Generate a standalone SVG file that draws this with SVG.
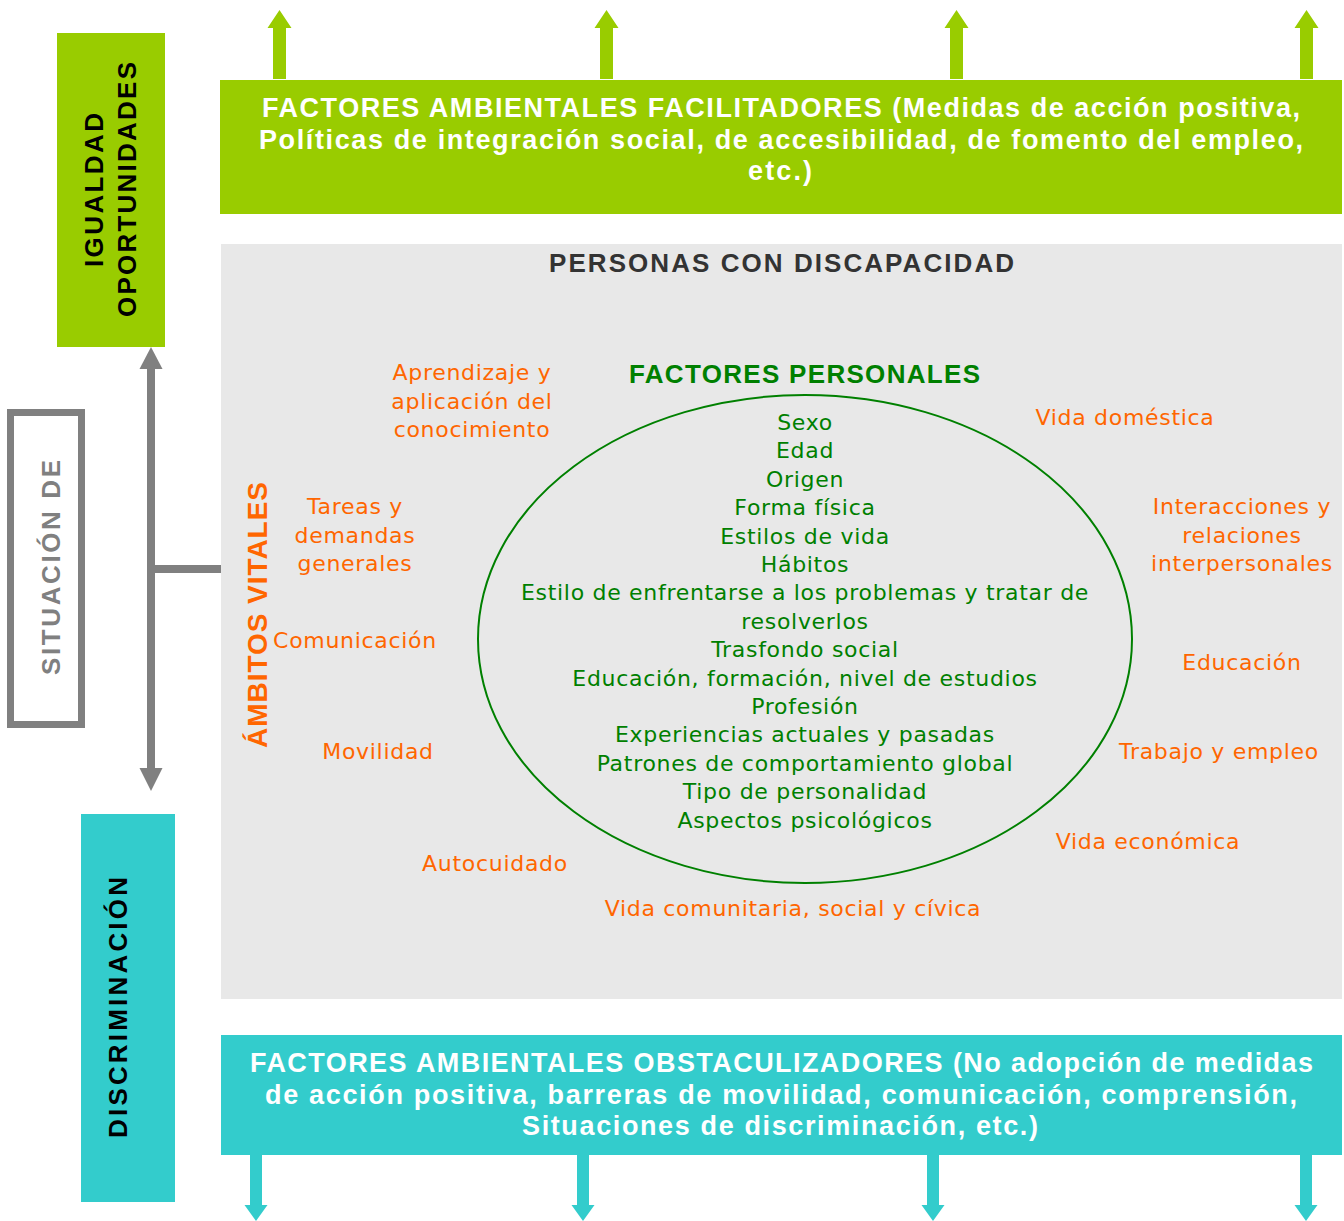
<svg xmlns="http://www.w3.org/2000/svg" width="1344" height="1221" viewBox="0 0 1344 1221">
  <style>
    .hb { font-family: "Liberation Sans", Arial, sans-serif; font-weight: bold; text-anchor: middle; }
    .wh { fill: #ffffff; font-size: 27px; }
    .vt { font-size: 26px; fill: #000000; }
    .rg { font-family: "DejaVu Sans", Verdana, sans-serif; font-size: 22px; letter-spacing: 0.7px; text-anchor: middle; }
    .or { fill: #ff6600; }
    .gr { fill: #008000; }
  </style>
  <rect width="1344" height="1221" fill="#ffffff"/>

  <g id="connectors">
    <g fill="#99cc00">
      <path d="M273,79 V28 H267.5 L279.5,10 L291.5,28 H286 V79 Z"/>
      <path d="M600,79 V28 H594.5 L606.5,10 L618.5,28 H613 V79 Z"/>
      <path d="M950,79 V28 H944.5 L956.5,10 L968.5,28 H963 V79 Z"/>
      <path d="M1300,79 V28 H1294.5 L1306.5,10 L1318.5,28 H1313 V79 Z"/>
    </g>
    <g fill="#33cccc">
      <path d="M250,1155 V1205 H244.5 L256,1221 L267.5,1205 H262 V1155 Z"/>
      <path d="M577,1155 V1205 H571.5 L583,1221 L594.5,1205 H589 V1155 Z"/>
      <path d="M927,1155 V1205 H921.5 L933,1221 L944.5,1205 H939 V1155 Z"/>
      <path d="M1300,1155 V1205 H1294.5 L1306,1221 L1317.5,1205 H1312 V1155 Z"/>
    </g>
    <g fill="#808080" stroke="none">
      <rect x="147" y="366" width="8" height="405"/>
      <rect x="155" y="565" width="66" height="8"/>
      <polygon points="151,347 139.5,369 162.5,369"/>
      <polygon points="151,791 139.5,768 162.5,768"/>
    </g>
  </g>

  <g id="igualdad">
    <rect x="57" y="33" width="108" height="314" fill="#99cc00"/>
    <text class="hb vt" transform="translate(103,190) rotate(-90)" textLength="154" lengthAdjust="spacing">IGUALDAD</text>
    <text class="hb vt" transform="translate(136,189.5) rotate(-90)" textLength="255" lengthAdjust="spacing">OPORTUNIDADES</text>
  </g>

  <g id="situacion">
    <rect x="10.5" y="412.5" width="71" height="312" fill="#ffffff" stroke="#808080" stroke-width="7"/>
    <text class="hb vt" style="fill:#808080" transform="translate(60,567.5) rotate(-90)" textLength="215" lengthAdjust="spacing">SITUACIÓN DE</text>
  </g>

  <g id="discriminacion">
    <rect x="81" y="814" width="94" height="388" fill="#33cccc"/>
    <text class="hb vt" transform="translate(127,1007.5) rotate(-90)" textLength="261" lengthAdjust="spacing">DISCRIMINACIÓN</text>
  </g>

  <g id="facilitadores">
    <rect x="220" y="80" width="1122" height="134" fill="#99cc00"/>
    <text class="hb wh" x="781" y="117" textLength="1038" lengthAdjust="spacing">FACTORES AMBIENTALES FACILITADORES (Medidas de acción positiva,</text>
    <text class="hb wh" x="781" y="149" textLength="1044" lengthAdjust="spacing">Políticas de integración social, de accesibilidad, de fomento del empleo,</text>
    <text class="hb wh" x="780" y="180" textLength="64" lengthAdjust="spacing">etc.)</text>
  </g>

  <g id="personas">
    <rect x="221" y="244" width="1121" height="755" fill="#e8e8e8"/>
    <text class="hb" style="font-size:26px;fill:#333333" x="781.5" y="272" textLength="465" lengthAdjust="spacing">PERSONAS CON DISCAPACIDAD</text>
  </g>

  <g id="ambitos">
    <text class="hb" style="font-size:28px;fill:#ff6600" transform="translate(267,615) rotate(-90)" textLength="266" lengthAdjust="spacing">ÁMBITOS VITALES</text>
    <g class="rg or">
      <text x="472" y="380">Aprendizaje y</text>
      <text x="472" y="409">aplicación del</text>
      <text x="472" y="437">conocimiento</text>
      <text x="355" y="514">Tareas y</text>
      <text x="355" y="543">demandas</text>
      <text x="355" y="571">generales</text>
      <text x="355" y="648">Comunicación</text>
      <text x="378" y="759">Movilidad</text>
      <text x="495" y="871">Autocuidado</text>
      <text x="793" y="916">Vida comunitaria, social y cívica</text>
      <text x="1125" y="425">Vida doméstica</text>
      <text x="1242" y="514">Interacciones y</text>
      <text x="1242" y="543">relaciones</text>
      <text x="1242" y="571">interpersonales</text>
      <text x="1242" y="670">Educación</text>
      <text x="1219" y="759">Trabajo y empleo</text>
      <text x="1148" y="849">Vida económica</text>
    </g>
  </g>

  <g id="factores-personales">
    <text class="hb" style="font-size:26px;fill:#008000" x="804.5" y="383" textLength="351" lengthAdjust="spacing">FACTORES PERSONALES</text>
    <ellipse cx="805" cy="639" rx="327" ry="244" fill="none" stroke="#008000" stroke-width="2"/>
    <g class="rg gr">
      <text x="805" y="430">Sexo</text>
      <text x="805" y="458.4">Edad</text>
      <text x="805" y="486.8">Origen</text>
      <text x="805" y="515.2">Forma física</text>
      <text x="805" y="543.6">Estilos de vida</text>
      <text x="805" y="572">Hábitos</text>
      <text x="805" y="600.4">Estilo de enfrentarse a los problemas y tratar de</text>
      <text x="805" y="628.8">resolverlos</text>
      <text x="805" y="657.2">Trasfondo social</text>
      <text x="805" y="685.6">Educación, formación, nivel de estudios</text>
      <text x="805" y="714">Profesión</text>
      <text x="805" y="742.4">Experiencias actuales y pasadas</text>
      <text x="805" y="770.8">Patrones de comportamiento global</text>
      <text x="805" y="799.2">Tipo de personalidad</text>
      <text x="805" y="827.6">Aspectos psicológicos</text>
    </g>
  </g>

  <g id="obstaculizadores">
    <rect x="221" y="1035" width="1121" height="120" fill="#33cccc"/>
    <text class="hb wh" x="781.5" y="1072" textLength="1063" lengthAdjust="spacing">FACTORES AMBIENTALES OBSTACULIZADORES (No adopción de medidas</text>
    <text class="hb wh" x="781" y="1103.5" textLength="1032" lengthAdjust="spacing">de acción positiva, barreras de movilidad, comunicación, comprensión,</text>
    <text class="hb wh" x="780" y="1135" textLength="516" lengthAdjust="spacing">Situaciones de discriminación, etc.)</text>
  </g>
</svg>
